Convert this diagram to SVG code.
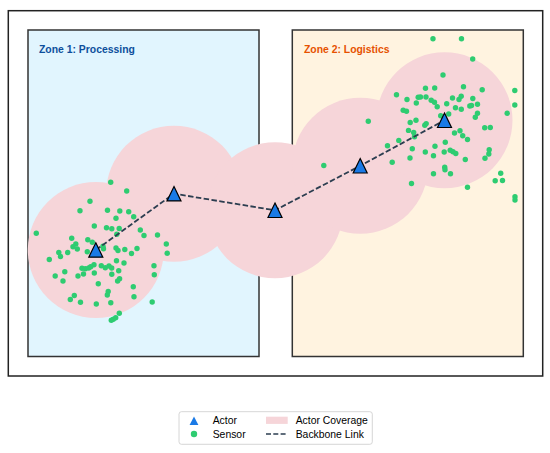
<svg xmlns="http://www.w3.org/2000/svg" width="550" height="453" viewBox="0 0 550 453">
<style>
.zt{font-family:"Liberation Sans",Arial,sans-serif;font-weight:bold;font-size:10.4px}
.lt{font-family:"Liberation Sans",Arial,sans-serif;font-size:10.4px;fill:#000}
.cov{fill:#f6d5d9}
.s{fill:#2ecc71}
.act{fill:#1a7ae6;stroke:#000;stroke-width:1.2;stroke-linejoin:miter}
.link{fill:none;stroke:#2c3e50;stroke-width:1.8;stroke-dasharray:5.5 2.4}
</style>
<defs>
<path id="tri" d="M0,-7.2 L7,7.2 L-7,7.2 Z"/>
</defs>
<rect x="0" y="0" width="550" height="453" fill="#fff"/>
<rect id="frame" x="8.3" y="10.7" width="534.4" height="365.3" fill="#fff" stroke="#222" stroke-width="1.5"/>
<g id="zone1">
<rect x="28" y="30" width="231" height="326.5" fill="#e1f5fe" stroke="#333" stroke-width="1.5"/>
</g>
<g id="zone2">
<rect x="292.3" y="30" width="231" height="326.5" fill="#fff3e0" stroke="#333" stroke-width="1.5"/>
</g>
<g id="coverage">
<circle class="cov" cx="95.8" cy="250" r="68"/>
<circle class="cov" cx="174" cy="193.7" r="68"/>
<circle class="cov" cx="275" cy="210.3" r="68"/>
<circle class="cov" cx="360.2" cy="165.8" r="68"/>
<circle class="cov" cx="444.5" cy="120.3" r="68"/>
</g>
<text class="zt" x="39" y="52.5" fill="#0d4f9c">Zone 1: Processing</text>
<text class="zt" x="304" y="52.5" fill="#e65100">Zone 2: Logistics</text>
<g id="sensors">
<circle class="s" cx="110.7" cy="182.3" r="2.7"/>
<circle class="s" cx="126.7" cy="191" r="2.7"/>
<circle class="s" cx="90" cy="201.3" r="2.7"/>
<circle class="s" cx="80" cy="210.7" r="2.7"/>
<circle class="s" cx="107.5" cy="210.3" r="2.7"/>
<circle class="s" cx="119.8" cy="211" r="2.7"/>
<circle class="s" cx="128.7" cy="211.7" r="2.7"/>
<circle class="s" cx="116" cy="218.3" r="2.7"/>
<circle class="s" cx="133.7" cy="216.7" r="2.7"/>
<circle class="s" cx="94.3" cy="226" r="2.7"/>
<circle class="s" cx="106.5" cy="227.7" r="2.7"/>
<circle class="s" cx="111.8" cy="228.7" r="2.7"/>
<circle class="s" cx="119.2" cy="228.5" r="2.7"/>
<circle class="s" cx="116.8" cy="234.3" r="2.7"/>
<circle class="s" cx="140.3" cy="230" r="2.7"/>
<circle class="s" cx="144" cy="235.5" r="2.7"/>
<circle class="s" cx="157.5" cy="235" r="2.7"/>
<circle class="s" cx="36.3" cy="233.2" r="2.7"/>
<circle class="s" cx="71.7" cy="238.2" r="2.7"/>
<circle class="s" cx="87.8" cy="239.8" r="2.7"/>
<circle class="s" cx="92.3" cy="242.3" r="2.7"/>
<circle class="s" cx="75.8" cy="244" r="2.7"/>
<circle class="s" cx="73" cy="246.8" r="2.7"/>
<circle class="s" cx="77.3" cy="249" r="2.7"/>
<circle class="s" cx="103" cy="246.3" r="2.7"/>
<circle class="s" cx="103.5" cy="248.8" r="2.7"/>
<circle class="s" cx="116" cy="248" r="2.7"/>
<circle class="s" cx="118" cy="250.5" r="2.7"/>
<circle class="s" cx="124.8" cy="249.5" r="2.7"/>
<circle class="s" cx="137" cy="248.5" r="2.7"/>
<circle class="s" cx="131.5" cy="253.5" r="2.7"/>
<circle class="s" cx="166.3" cy="244" r="2.7"/>
<circle class="s" cx="167.2" cy="253.3" r="2.7"/>
<circle class="s" cx="87.3" cy="251.7" r="2.7"/>
<circle class="s" cx="58.8" cy="252.5" r="2.7"/>
<circle class="s" cx="60.5" cy="256.5" r="2.7"/>
<circle class="s" cx="67.7" cy="252.5" r="2.7"/>
<circle class="s" cx="49.3" cy="259.5" r="2.7"/>
<circle class="s" cx="116.5" cy="260.8" r="2.7"/>
<circle class="s" cx="124" cy="263" r="2.7"/>
<circle class="s" cx="94" cy="264.7" r="2.7"/>
<circle class="s" cx="101.3" cy="265.8" r="2.7"/>
<circle class="s" cx="105.3" cy="267.8" r="2.7"/>
<circle class="s" cx="109" cy="266" r="2.7"/>
<circle class="s" cx="111.7" cy="268" r="2.7"/>
<circle class="s" cx="82" cy="268.3" r="2.7"/>
<circle class="s" cx="85.3" cy="268.7" r="2.7"/>
<circle class="s" cx="88.7" cy="268" r="2.7"/>
<circle class="s" cx="90.7" cy="266.7" r="2.7"/>
<circle class="s" cx="118.7" cy="270.7" r="2.7"/>
<circle class="s" cx="154" cy="265.7" r="2.7"/>
<circle class="s" cx="154.3" cy="274.7" r="2.7"/>
<circle class="s" cx="64.8" cy="271.8" r="2.7"/>
<circle class="s" cx="55.2" cy="276" r="2.7"/>
<circle class="s" cx="63" cy="281" r="2.7"/>
<circle class="s" cx="78" cy="276" r="2.7"/>
<circle class="s" cx="83.5" cy="274" r="2.7"/>
<circle class="s" cx="94.3" cy="273" r="2.7"/>
<circle class="s" cx="111.8" cy="274.2" r="2.7"/>
<circle class="s" cx="119.6" cy="278.8" r="2.7"/>
<circle class="s" cx="117.6" cy="281" r="2.7"/>
<circle class="s" cx="98.3" cy="283.7" r="2.7"/>
<circle class="s" cx="133.3" cy="286.8" r="2.7"/>
<circle class="s" cx="134" cy="296.7" r="2.7"/>
<circle class="s" cx="108.2" cy="291.5" r="2.7"/>
<circle class="s" cx="107.3" cy="295" r="2.7"/>
<circle class="s" cx="74.3" cy="295.5" r="2.7"/>
<circle class="s" cx="70.3" cy="299.5" r="2.7"/>
<circle class="s" cx="80.5" cy="302.3" r="2.7"/>
<circle class="s" cx="96.3" cy="304" r="2.7"/>
<circle class="s" cx="110.8" cy="302.7" r="2.7"/>
<circle class="s" cx="152.2" cy="302" r="2.7"/>
<circle class="s" cx="119.3" cy="313.2" r="2.7"/>
<circle class="s" cx="115.7" cy="317.7" r="2.7"/>
<circle class="s" cx="113.3" cy="319.3" r="2.7"/>
<circle class="s" cx="111.3" cy="320.3" r="2.7"/>
<circle class="s" cx="433" cy="38.7" r="2.7"/>
<circle class="s" cx="461.5" cy="38.7" r="2.7"/>
<circle class="s" cx="472.7" cy="59" r="2.7"/>
<circle class="s" cx="443" cy="75" r="2.7"/>
<circle class="s" cx="396.5" cy="94.7" r="2.7"/>
<circle class="s" cx="407" cy="99.5" r="2.7"/>
<circle class="s" cx="425.5" cy="88.3" r="2.7"/>
<circle class="s" cx="434.7" cy="88" r="2.7"/>
<circle class="s" cx="463.5" cy="86.7" r="2.7"/>
<circle class="s" cx="482.2" cy="89.8" r="2.7"/>
<circle class="s" cx="514.8" cy="90.5" r="2.7"/>
<circle class="s" cx="418.2" cy="97.2" r="2.7"/>
<circle class="s" cx="420.5" cy="97" r="2.7"/>
<circle class="s" cx="426" cy="97" r="2.7"/>
<circle class="s" cx="431.2" cy="100.3" r="2.7"/>
<circle class="s" cx="434.5" cy="102.2" r="2.7"/>
<circle class="s" cx="416.3" cy="103" r="2.7"/>
<circle class="s" cx="437.2" cy="106.7" r="2.7"/>
<circle class="s" cx="446.7" cy="103.7" r="2.7"/>
<circle class="s" cx="452.5" cy="98" r="2.7"/>
<circle class="s" cx="459" cy="99.5" r="2.7"/>
<circle class="s" cx="461.2" cy="96.2" r="2.7"/>
<circle class="s" cx="472.8" cy="98.5" r="2.7"/>
<circle class="s" cx="455.5" cy="107.8" r="2.7"/>
<circle class="s" cx="461.3" cy="109.3" r="2.7"/>
<circle class="s" cx="469.8" cy="106" r="2.7"/>
<circle class="s" cx="471.5" cy="105.5" r="2.7"/>
<circle class="s" cx="477.5" cy="104.3" r="2.7"/>
<circle class="s" cx="514.8" cy="105" r="2.7"/>
<circle class="s" cx="403.2" cy="110.2" r="2.7"/>
<circle class="s" cx="406.5" cy="111.2" r="2.7"/>
<circle class="s" cx="477.5" cy="113.2" r="2.7"/>
<circle class="s" cx="475.3" cy="117.2" r="2.7"/>
<circle class="s" cx="507.2" cy="113.3" r="2.7"/>
<circle class="s" cx="416" cy="120.2" r="2.7"/>
<circle class="s" cx="410.2" cy="122.5" r="2.7"/>
<circle class="s" cx="426.2" cy="123.6" r="2.7"/>
<circle class="s" cx="424.8" cy="125.2" r="2.7"/>
<circle class="s" cx="440.7" cy="115.7" r="2.7"/>
<circle class="s" cx="448.7" cy="114" r="2.7"/>
<circle class="s" cx="368.3" cy="121.3" r="2.7"/>
<circle class="s" cx="408.5" cy="130.4" r="2.7"/>
<circle class="s" cx="413.7" cy="132.5" r="2.7"/>
<circle class="s" cx="414.5" cy="136.7" r="2.7"/>
<circle class="s" cx="398.8" cy="140.4" r="2.7"/>
<circle class="s" cx="387.5" cy="145.7" r="2.7"/>
<circle class="s" cx="454.5" cy="133" r="2.7"/>
<circle class="s" cx="460" cy="130.8" r="2.7"/>
<circle class="s" cx="462.7" cy="135.7" r="2.7"/>
<circle class="s" cx="467.5" cy="139.5" r="2.7"/>
<circle class="s" cx="484.7" cy="127.7" r="2.7"/>
<circle class="s" cx="490.3" cy="127.5" r="2.7"/>
<circle class="s" cx="445.3" cy="142.3" r="2.7"/>
<circle class="s" cx="435" cy="146.2" r="2.7"/>
<circle class="s" cx="412.3" cy="148.7" r="2.7"/>
<circle class="s" cx="425.3" cy="152" r="2.7"/>
<circle class="s" cx="433.5" cy="155.7" r="2.7"/>
<circle class="s" cx="444.2" cy="152" r="2.7"/>
<circle class="s" cx="450.2" cy="150.2" r="2.7"/>
<circle class="s" cx="453" cy="151.7" r="2.7"/>
<circle class="s" cx="455.8" cy="153.5" r="2.7"/>
<circle class="s" cx="489.2" cy="149.8" r="2.7"/>
<circle class="s" cx="488.8" cy="154" r="2.7"/>
<circle class="s" cx="485" cy="158.2" r="2.7"/>
<circle class="s" cx="410" cy="158" r="2.7"/>
<circle class="s" cx="465.3" cy="159.5" r="2.7"/>
<circle class="s" cx="392.2" cy="162.3" r="2.7"/>
<circle class="s" cx="323.8" cy="165.5" r="2.7"/>
<circle class="s" cx="444.7" cy="167.3" r="2.7"/>
<circle class="s" cx="445" cy="169.8" r="2.7"/>
<circle class="s" cx="433.5" cy="173.7" r="2.7"/>
<circle class="s" cx="450.5" cy="173.7" r="2.7"/>
<circle class="s" cx="500.7" cy="173.3" r="2.7"/>
<circle class="s" cx="495.2" cy="180.7" r="2.7"/>
<circle class="s" cx="502.5" cy="180.5" r="2.7"/>
<circle class="s" cx="411.5" cy="183.5" r="2.7"/>
<circle class="s" cx="467.5" cy="187.2" r="2.7"/>
<circle class="s" cx="515" cy="196.7" r="2.7"/>
<circle class="s" cx="515" cy="200" r="2.7"/>
</g>
<g id="connectors">
<polyline class="link" points="95.8,250 174,193.7 275,210.3 360.2,165.8 444.5,120.3"/>
</g>
<g id="actors">
<use href="#tri" class="act" x="95.8" y="250"/>
<use href="#tri" class="act" x="174" y="193.7"/>
<use href="#tri" class="act" x="275" y="210.3"/>
<use href="#tri" class="act" x="360.2" y="165.8"/>
<use href="#tri" class="act" x="444.5" y="120.3"/>
</g>
<g id="legend">
<rect x="179" y="411.7" width="193.3" height="32.6" rx="2.5" fill="#fff" stroke="#ccc" stroke-width="0.8"/>
<path d="M194,416.5 L198.4,425 L189.6,425 Z" fill="#1a7ae6"/>
<text class="lt" x="212.7" y="424.3">Actor</text>
<circle cx="194" cy="434" r="3.2" fill="#2ecc71"/>
<text class="lt" x="212.7" y="437.8">Sensor</text>
<rect x="266" y="416.7" width="21.7" height="7.2" fill="#f6d5d9"/>
<text class="lt" x="295.7" y="424.3">Actor Coverage</text>
<line x1="266" y1="434" x2="287.7" y2="434" stroke="#2c3e50" stroke-width="1.5" stroke-dasharray="5 2.3"/>
<text class="lt" x="295.7" y="437.8">Backbone Link</text>
</g>
</svg>
